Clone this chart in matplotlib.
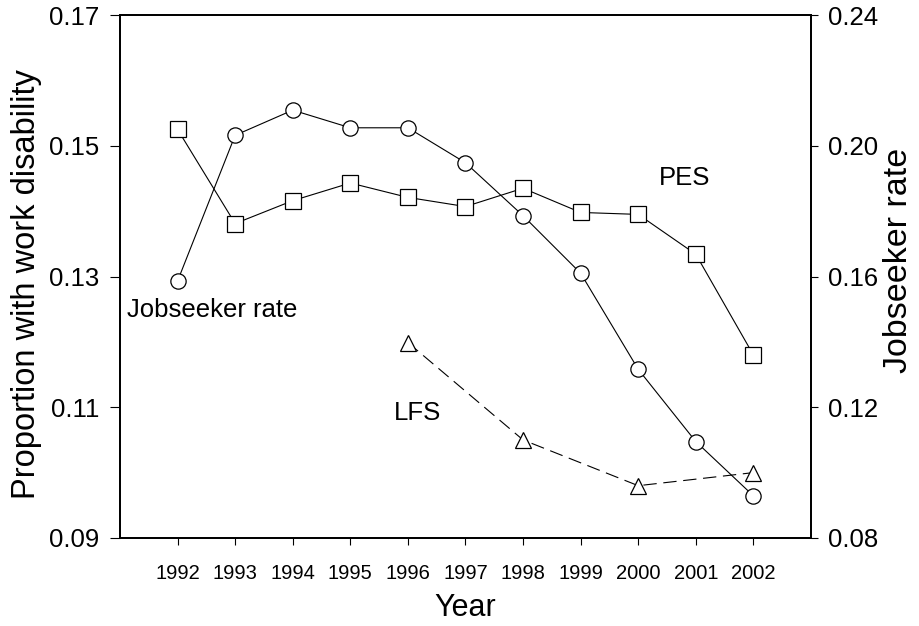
import matplotlib
matplotlib.use("Agg")
import matplotlib.pyplot as plt

plt.rcParams['font.family'] = ['Liberation Sans', 'DejaVu Sans']

years = [1992, 1993, 1994, 1995, 1996, 1997, 1998, 1999, 2000, 2001, 2002]
pes = [0.1525, 0.1381, 0.1416, 0.1443, 0.1421, 0.1407, 0.1435, 0.1398, 0.1395, 0.1334, 0.1180]
jobseeker = [0.1586, 0.2032, 0.2109, 0.2055, 0.2055, 0.1948, 0.1786, 0.1610, 0.1316, 0.1095, 0.0929]
lfs_years = [1996, 1998, 2000, 2002]
lfs = [0.1199, 0.1050, 0.0980, 0.1000]

left_ticks = [0.09, 0.11, 0.13, 0.15, 0.17]
right_ticks = [0.08, 0.12, 0.16, 0.20, 0.24]

fig = plt.figure(figsize=(9.2, 6.26), dpi=100)
ax = fig.add_axes([0.1304, 0.1406, 0.8815 - 0.1304, 0.976 - 0.1406])
ax2 = ax.twinx()

lw = 0.8
ax.plot(years, pes, color='black', lw=lw, marker='s', markersize=11,
        markerfacecolor='white', markeredgecolor='black', markeredgewidth=0.9, zorder=3)
ax.plot(lfs_years, lfs, color='black', lw=lw, linestyle=(0, (12, 6)), marker='^', markersize=12,
        markerfacecolor='white', markeredgecolor='black', markeredgewidth=0.9, zorder=3)
ax2.plot(years, jobseeker, color='black', lw=lw, marker='o', markersize=11,
         markerfacecolor='white', markeredgecolor='black', markeredgewidth=0.9, zorder=3)

ax.set_xlim(1991, 2003)
ax.set_ylim(0.09, 0.17)
ax2.set_ylim(0.08, 0.24)

ax.set_xticks(years)
ax.set_xticklabels([str(y) for y in years], fontsize=14.5)
ax.set_yticks(left_ticks)
ax.set_yticklabels(['%.2f' % v for v in left_ticks], fontsize=18.5)
ax2.set_yticks(right_ticks)
ax2.set_yticklabels(['%.2f' % v for v in right_ticks], fontsize=18.5)

ax.tick_params(axis='x', direction='out', length=5, width=0.8, pad=14)
ax.tick_params(axis='y', direction='out', length=7, width=0.8, pad=8)
ax2.tick_params(axis='y', direction='out', length=5, width=0.8, pad=7)

for a in (ax, ax2):
    for s in a.spines.values():
        s.set_linewidth(1.3)

ax.set_xlabel('Year', fontsize=22, labelpad=7)
ax.set_ylabel('Proportion with work disability', fontsize=23.5, labelpad=4)
ax.yaxis.set_label_coords(-0.113, 0.485)
ax2.set_ylabel('Jobseeker rate', fontsize=24.5, labelpad=4)
ax2.yaxis.label.set_y(0.53)

ax.text(2000.8, 0.1450, 'PES', fontsize=18.5, ha='center', va='center')
ax.text(1991.12, 0.1249, 'Jobseeker rate', fontsize=18.5, ha='left', va='center')
ax.text(1996.17, 0.1091, 'LFS', fontsize=18.5, ha='center', va='center')

fig.savefig('out.png', dpi=100)
